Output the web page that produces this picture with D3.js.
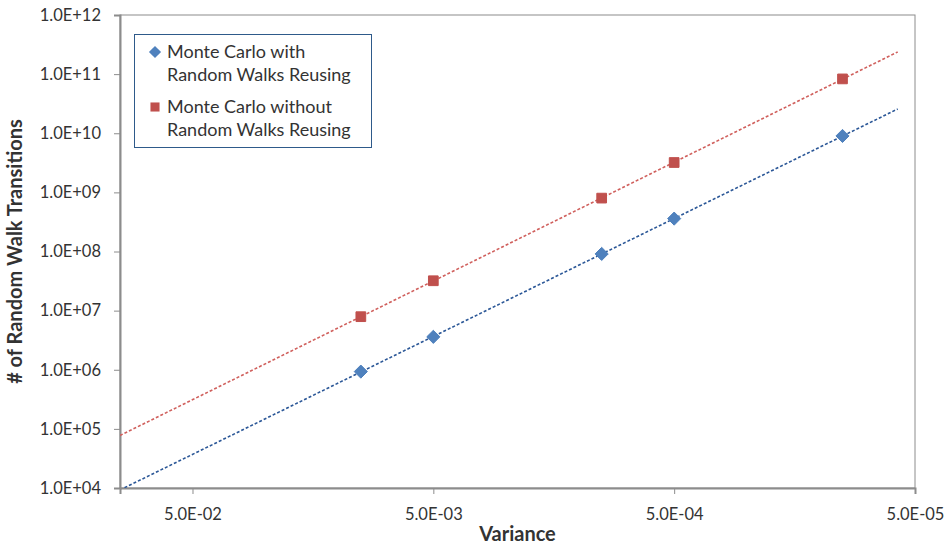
<!DOCTYPE html>
<html>
<head>
<meta charset="utf-8">
<script src="https://cdn.jsdelivr.net/npm/d3@7"></script>
<style>
    body { margin: 0; background: #fff; }
    text { font-family: Lato, "Open Sans", sans-serif; fill: #333; }
</style>
</head>
<body>
<script>
    // Data
    const variance = [1e-2, 5e-3, 1e-3, 5e-4, 1e-4];
    const withReuse = [9.3e5, 3.6e6, 9.1e7, 3.6e8, 9.0e9];
    const withoutReuse = [7.9e6, 3.2e7, 8.0e8, 3.2e9, 8.3e10];
    const xTicks = [5e-2, 5e-3, 5e-4, 5e-5];
    const yTicks = [1e4, 1e5, 1e6, 1e7, 1e8, 1e9, 1e10, 1e11, 1e12];
    const seriesNames = ["Monte Carlo with|Random Walks Reusing", "Monte Carlo without|Random Walks Reusing"];
    const trendRange = [0.1, 5.9e-5];

    const width = 946, height = 544;
    const margin = {left : 120, top : 15, right : 31, bottom : 56};
    const w = width - margin.left - margin.right;
    const h = height - margin.top - margin.bottom;

    const svg = d3.select("body").append("svg")
        .attr('width', width)
        .attr('height', height);

    const g = svg.append("g")
        .attr('transform', `translate(${margin.left}, ${margin.top})`);

    // Scales
    const x = d3.scaleLog().domain([0.1, 5e-5]).range([0, w]);
    const y = d3.scaleLog().domain([1e4, 1e12]).range([h, 0]);

    const fmtExp = (v) => {
        const e = Math.floor(Math.log10(v) + 1e-9);
        const m = v / Math.pow(10, e);
        const sign = e < 0 ? "-" : "+";
        return m.toFixed(1) + "E" + sign + String(Math.abs(e)).padStart(2, "0");
    };

    // Plot border
    g.append("rect")
        .attr('width', w).attr('height', h)
        .attr('fill', 'none')
        .attr('stroke', '#8c8c8c')
        .attr('stroke-width', 1);

    // Axes
    const yAxis = g.append("g")
        .call(d3.axisLeft(y).tickValues(yTicks).tickSize(6).tickPadding(13)
            .tickFormat(fmtExp));
    const xAxis = g.append("g")
        .attr('transform', `translate(0, ${h})`)
        .call(d3.axisBottom(x).tickValues(xTicks).tickSize(6).tickPadding(14)
            .tickFormat(fmtExp));
    [yAxis, xAxis].forEach((a) => {
        a.select(".domain").attr('stroke', '#8c8c8c').attr('stroke-width', 2);
        a.selectAll("line").attr('stroke', '#8c8c8c');
        a.selectAll("text")
            .style('font-family', 'Lato, sans-serif')
            .style('font-size', '16.5px')
            .style('fill', '#333');
    });

    // Power trend lines (least squares on log-log)
    const fit = (xs, ys) => {
        const lx = xs.map(Math.log10), ly = ys.map(Math.log10);
        const mx = d3.mean(lx), my = d3.mean(ly);
        const b = d3.sum(lx.map((v, i) => (v - mx) * (ly[i] - my))) / d3.sum(lx.map((v) => (v - mx) ** 2));
        const a = my - b * mx;
        return (v) => Math.pow(10, a + b * Math.log10(v));
    };

    const series = [
        {name : seriesNames[0], values : withReuse, color : '#4f81bd', trend : '#2b5797', shape : d3.symbolDiamond2, size : 110},
        {name : seriesNames[1], values : withoutReuse, color : '#c0504d', trend : '#d0605d', shape : d3.symbolSquare2, size : 120}
    ];

    g.append("clipPath").attr('id', 'clip')
        .append("rect").attr('width', w).attr('height', h);

    const line = d3.line().x((d) => x(d[0])).y((d) => y(d[1]));

    series.forEach((s) => {
        const f = fit(variance, s.values);
        const pts = trendRange.map((v) => [v, f(v)]);
        g.append("path")
            .attr('clip-path', 'url(#clip)')
            .attr('d', line(pts))
            .attr('fill', 'none')
            .attr('stroke', s.trend)
            .attr('stroke-width', 1.6)
            .attr('stroke-dasharray', '3,2');
    });

    series.forEach((s) => {
        g.selectAll(null).data(variance.map((v, i) => [v, s.values[i]]))
            .enter().append("path")
            .attr('transform', (d) => `translate(${x(d[0])}, ${y(d[1])})`)
            .attr('d', d3.symbol().type(s.shape).size(s.size))
            .attr('fill', s.color)
            .attr('stroke', s.color)
            .attr('stroke-width', 1);
    });

    // Axis titles
    svg.append("text")
        .attr('x', margin.left + w / 2)
        .attr('y', 541)
        .attr('text-anchor', 'middle')
        .style('font-size', '20px')
        .style('font-weight', 'bold')
        .text("Variance");
    svg.append("text")
        .attr('transform', `translate(22, ${margin.top + h / 2}) rotate(-90)`)
        .attr('text-anchor', 'middle')
        .style('font-size', '20px')
        .style('font-weight', 'bold')
        .text("# of Random Walk Transitions");

    // Legend
    const legend = svg.append("g");
    legend.append("rect")
        .attr('x', 134.5).attr('y', 34.5).attr('width', 237).attr('height', 113)
        .attr('fill', '#fff')
        .attr('stroke', '#2e5a8a')
        .attr('stroke-width', 1);
    series.forEach((s, i) => {
        const top = 52 + i * 55;
        legend.append("path")
            .attr('transform', `translate(155, ${top})`)
            .attr('d', d3.symbol().type(s.shape).size(s.size - 15))
            .attr('fill', s.color);
        s.name.split("|").forEach((t, j) => {
            legend.append("text")
                .attr('x', 167)
                .attr('y', top + 6 + j * 23)
                .style('font-size', '18px')
                .text(t);
        });
    });
</script>
</body>
</html>
